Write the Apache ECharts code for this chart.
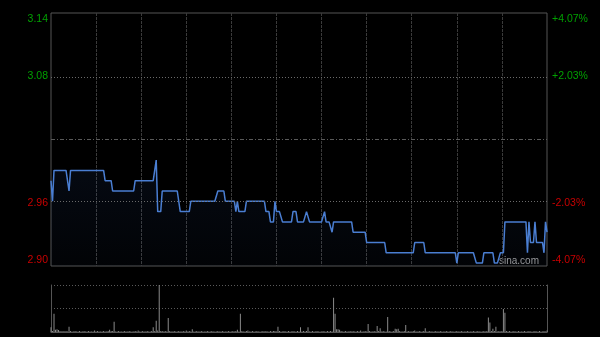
<!DOCTYPE html>
<html>
<head>
<meta charset="utf-8">
<script src="https://cdn.jsdelivr.net/npm/echarts@6/dist/echarts.min.js"></script>
<style>
html,body{margin:0;padding:0;background:#000;}
#c{width:600px;height:337px;}
</style>
</head>
<body>
<div id="c"></div>
<script>
// ---- data ----
// trading minutes 09:30-12:00, 13:01-16:00
const categories = [];
(function(){
  function pad(n){return (n<10?'0':'')+n;}
  for (let m = 9*60+30; m <= 12*60; m++) categories.push(pad(Math.floor(m/60))+':'+pad(m%60));
  for (let m = 13*60+1; m <= 16*60; m++) categories.push(pad(Math.floor(m/60))+':'+pad(m%60));
})();

const prices = [
  2.98,2.96,2.99,2.99,2.99,2.99,2.99,2.99,2.99,2.99,2.99,2.99,
  2.97,
  2.99,2.99,2.99,2.99,2.99,2.99,2.99,2.99,2.99,2.99,2.99,2.99,2.99,2.99,2.99,2.99,2.99,2.99,2.99,2.99,2.99,2.99,2.99,
  2.98,2.98,2.98,2.98,2.98,
  2.97,2.97,2.97,2.97,2.97,2.97,2.97,2.97,2.97,2.97,2.97,2.97,2.97,2.97,2.97,
  2.98,2.98,2.98,2.98,2.98,2.98,2.98,2.98,2.98,2.98,2.98,2.98,2.98,2.98,
  3.00,
  2.95,2.95,2.95,
  2.97,2.97,2.97,2.97,2.97,2.97,2.97,2.97,2.97,2.97,2.97,2.97,
  2.95,2.95,2.95,2.95,2.95,2.95,2.95,
  2.96,2.96,2.96,2.96,2.96,2.96,2.96,2.96,2.96,2.96,2.96,2.96,2.96,2.96,2.96,2.96,2.96,2.96,
  2.97,2.97,2.97,2.97,2.97,
  2.96,2.96,2.96,2.96,2.96,2.96,2.96,
  2.95,
  2.96,
  2.95,2.95,2.95,2.95,2.95,
  2.96,2.96,2.96,2.96,2.96,2.96,2.96,2.96,2.96,2.96,2.96,2.96,2.96,
  2.95,2.95,2.95,
  2.94,2.94,2.94,
  2.96,
  2.95,2.95,2.95,2.95,
  2.94,2.94,2.94,2.94,2.94,2.94,2.94,
  2.95,2.95,2.95,
  2.94,2.94,2.94,2.94,2.94,2.94,
  2.95,2.95,
  2.94,2.94,2.94,2.94,2.94,2.94,2.94,2.94,2.94,2.94,
  2.95,
  2.94,2.94,2.94,2.94,
  2.93,
  2.94,2.94,2.94,2.94,2.94,2.94,2.94,2.94,2.94,2.94,2.94,2.94,2.94,
  2.93,2.93,2.93,2.93,2.93,2.93,2.93,2.93,2.93,
  2.92,2.92,2.92,2.92,2.92,2.92,2.92,2.92,2.92,2.92,2.92,2.92,2.92,
  2.91,2.91,2.91,2.91,2.91,2.91,2.91,2.91,2.91,2.91,2.91,2.91,2.91,2.91,2.91,2.91,2.91,2.91,2.91,
  2.92,2.92,2.92,2.92,2.92,2.92,2.92,
  2.91,2.91,2.91,2.91,2.91,2.91,2.91,2.91,2.91,2.91,2.91,2.91,2.91,2.91,2.91,2.91,2.91,2.91,2.91,2.91,2.91,
  2.90,
  2.91,2.91,2.91,2.91,2.91,2.91,2.91,2.91,2.91,2.91,2.91,2.91,
  2.90,2.90,2.90,2.90,2.90,
  2.91,2.91,2.91,2.91,2.91,2.91,2.91,
  2.90,2.90,2.90,2.90,
  2.91,2.91,2.91,
  2.94,2.94,2.94,2.94,2.94,2.94,2.94,2.94,2.94,2.94,2.94,2.94,2.94,2.94,2.94,
  2.91,
  2.94,
  2.92,2.92,2.92,
  2.94,
  2.92,2.92,2.92,2.92,2.92,
  2.91,
  2.94,
  2.93
];

const volumes = [
  10,2,39,5,6,4,2,1,2,1,
  2,1,11,2,1,1,2,1,1,2,
  1,1,2,1,1,2,1,1,1,3,
  1,2,1,1,1,2,1,1,2,5,
  2,2,22,1,1,2,1,1,1,2,
  1,1,2,1,1,1,2,1,3,1,
  1,2,1,1,2,1,1,2,10,2,
  24,3,100,2,2,1,2,1,30,2,
  1,1,2,1,1,2,1,1,2,1,
  3,1,2,1,6,1,1,2,1,1,
  2,1,1,1,2,1,1,2,1,1,
  1,2,1,1,2,1,1,1,2,1,
  1,2,1,2,5,1,39,2,1,1,
  2,3,1,1,2,1,1,2,1,1,
  1,2,1,2,1,1,2,1,2,2,
  1,11,2,1,1,2,1,1,2,1,
  1,2,1,1,2,1,10,1,2,1,
  2,10,1,1,2,1,1,2,1,1,
  1,2,1,1,2,1,2,1,73,39,
  6,6,5,2,1,1,2,1,1,2,
  1,2,1,1,2,1,3,1,1,2,
  1,17,2,1,1,2,1,13,2,8,
  1,2,1,1,32,2,1,1,2,7,
  6,7,2,1,1,2,15,1,2,1,
  1,2,3,1,1,2,1,1,2,8,
  1,1,2,1,1,1,2,1,1,2,
  1,1,1,2,1,1,2,1,1,1,
  2,1,1,2,1,1,1,2,1,1,
  1,2,1,1,2,1,1,1,2,1,
  2,31,20,2,7,2,11,1,2,1,
  2,49,41,2,1,2,1,1,2,1,
  1,2,1,1,1,2,1,1,2,1,
  1,1,2,1,1,2,1,1,2,1,
  3
];

const preClose = 3.02;
const priceMin = 2.8972;
const priceMax = 3.1428;
const priceTicks = [2.8972, 2.9586, 3.0814, 3.1428];
const priceTickLabels = ['2.90', '2.96', '3.08', '3.14'];
const pctTickLabels = ['-4.07%', '-2.03%', '+2.03%', '+4.07%'];
const gridLevels = [2.9586, 3.02, 3.0814];

// ---- chart ----
const GREEN = '#00a000', RED = '#c80000';
const FONT = "'Liberation Sans', Arial, sans-serif";
function labelFor(list) {
  return function (v) {
    const k = priceTicks.findIndex(t => Math.abs(t - v) < 1e-6);
    if (k < 0) return '';
    const up = priceTicks[k] > preClose;
    const key = (k === priceTicks.length - 1 ? 't' : (k === 0 ? 'b' : 'm')) + (up ? 'G' : 'R');
    return '{' + key + '|' + list[k] + '}';
  };
}
const rich = {
  tG: {color: GREEN, padding: [13, 0, 0, 0], fontSize: 10.5, fontFamily: FONT},
  tR: {color: RED, padding: [13, 0, 0, 0], fontSize: 10.5, fontFamily: FONT},
  mG: {color: GREEN, fontSize: 10.5, fontFamily: FONT},
  mR: {color: RED, fontSize: 10.5, fontFamily: FONT},
  bG: {color: GREEN, padding: [0, 0, 11, 0], fontSize: 10.5, fontFamily: FONT},
  bR: {color: RED, padding: [0, 0, 11, 0], fontSize: 10.5, fontFamily: FONT}
};

const chart = echarts.init(document.getElementById('c'), null, {renderer: 'canvas'});
chart.setOption({
  backgroundColor: '#000',
  animation: false,
  grid: [
    {left: 51, top: 13, width: 496, height: 253, show: true, borderColor: '#555', borderWidth: 1, backgroundColor: 'transparent'},
    {left: 51, top: 285, width: 496, height: 47}
  ],
  xAxis: [
    {
      type: 'category', gridIndex: 0, data: categories, boundaryGap: false,
      axisLine: {show: false}, axisTick: {show: false}, axisLabel: {show: false},
      splitLine: {
        show: true,
        interval: function (i) { return i % 30 === 0 && i > 0 && i < categories.length - 1; },
        lineStyle: {color: '#3a3a3a', type: [3, 1], width: 1}
      }
    },
    {
      type: 'category', gridIndex: 1, data: categories, boundaryGap: false,
      axisLine: {show: true, lineStyle: {color: '#555'}}, axisTick: {show: false}, axisLabel: {show: false},
      splitLine: {show: false}
    }
  ],
  yAxis: [
    {
      type: 'value', gridIndex: 0, min: priceMin, max: priceMax, position: 'left',
      axisLine: {show: false}, axisTick: {show: false}, splitLine: {show: false},
      axisLabel: {customValues: priceTicks, formatter: labelFor(priceTickLabels), rich: rich, margin: 3, fontSize: 10.5, fontFamily: FONT}
    },
    {
      type: 'value', gridIndex: 0, min: priceMin, max: priceMax, position: 'right',
      axisLine: {show: false}, axisTick: {show: false}, splitLine: {show: false},
      axisLabel: {customValues: priceTicks, formatter: labelFor(pctTickLabels), rich: rich, margin: 5, fontSize: 10.5, fontFamily: FONT}
    },
    {
      type: 'value', gridIndex: 1, min: 0, max: 100, interval: 50, position: 'left',
      axisLine: {show: true, lineStyle: {color: '#555'}}, axisTick: {show: false}, axisLabel: {show: false},
      splitLine: {show: true, lineStyle: {color: '#5a5a5a', type: [1, 2]}}
    },
    {
      type: 'value', gridIndex: 1, min: 0, max: 100, interval: 50, position: 'right',
      axisLine: {show: true, lineStyle: {color: '#555'}}, axisTick: {show: false}, axisLabel: {show: false},
      splitLine: {show: false}
    }
  ],
  series: [
    {
      type: 'line', xAxisIndex: 0, yAxisIndex: 0, data: prices,
      showSymbol: false, symbol: 'none',
      lineStyle: {color: '#4a7ed2', width: 1.5},
      areaStyle: {
        color: new echarts.graphic.LinearGradient(0, 0, 0, 1, [
          {offset: 0, color: 'rgba(50,90,170,0.16)'},
          {offset: 1, color: 'rgba(50,90,170,0.05)'}
        ])
      },
      markLine: {
        silent: true, symbol: 'none', label: {show: false}, animation: false,
        data: [
          {yAxis: gridLevels[0], lineStyle: {color: '#6a6a6a', type: [1, 2], width: 1}},
          {yAxis: gridLevels[1], lineStyle: {color: '#5a5a5a', type: [4, 2, 1, 2], width: 1}},
          {yAxis: gridLevels[2], lineStyle: {color: '#6a6a6a', type: [1, 2], width: 1}}
        ]
      }
    },
    {
      type: 'bar', xAxisIndex: 1, yAxisIndex: 2, data: volumes,
      barWidth: 1, itemStyle: {color: '#8a8a8a'}
    }
  ],
  graphic: [
    {type: 'text', left: 499, top: 256, silent: true,
     style: {text: 'sina.com', fill: '#9a9a9a', font: "10px 'Liberation Sans', Arial, sans-serif"}}
  ]
});
</script>
</body>
</html>
